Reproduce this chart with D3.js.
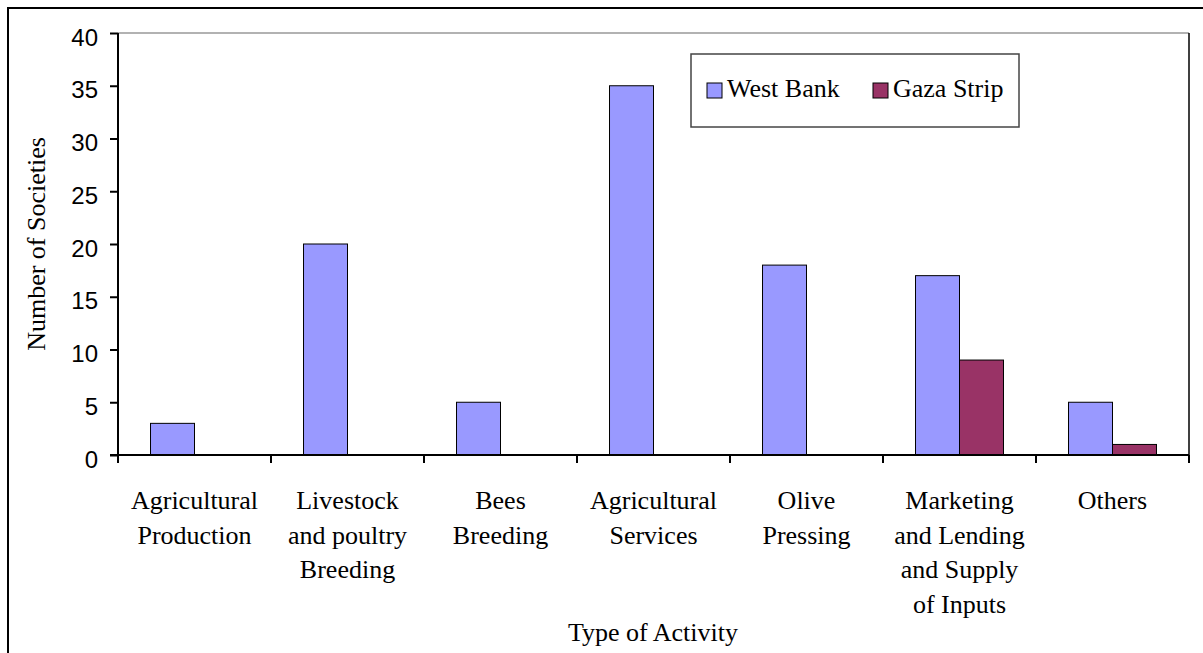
<!DOCTYPE html>
<html><head><meta charset="utf-8">
<script src="https://cdn.jsdelivr.net/npm/d3@7"></script>
<style>body{margin:0;background:#fff}svg{display:block}</style>
</head><body>
<svg id="c" width="1203" height="653"></svg>
<script>
const categories = ["Agricultural\nProduction","Livestock\nand poultry\nBreeding","Bees\nBreeding","Agricultural\nServices","Olive\nPressing","Marketing\nand Lending\nand Supply\nof Inputs","Others"];
const seriesNames = ["West Bank","Gaza Strip"];
const westBank = [3,20,5,35,18,17,5];
const gazaStrip = [0,0,0,0,0,9,1];
const yTicks = [0,5,10,15,20,25,30,35,40];
const colors = ["#9999FF","#993366"];

const svg = d3.select("#c");
const serif = "'Liberation Serif','Times New Roman',serif";
const sans = "'Liberation Sans',Arial,sans-serif";

// outer frame
svg.append("rect").attr("x",8).attr("y",8).attr("width",1300).attr("height",700)
  .attr("fill","none").attr("stroke","#000").attr("stroke-width",2);

const L=118, R=1189, T=33, B=455;
const x0 = d3.scaleBand().domain(categories).range([L,R]).padding(0);
const x1 = d3.scaleBand().domain(seriesNames).range([0,x0.bandwidth()]).paddingInner(0).paddingOuter(0.739);
const y = d3.scaleLinear().domain([0,40]).range([B,T]);

// plot area border (top gray, right black)
svg.append("line").attr("x1",L).attr("x2",R).attr("y1",T).attr("y2",T).attr("stroke","#999").attr("stroke-width",1.5);
svg.append("line").attr("x1",R).attr("x2",R).attr("y1",T).attr("y2",B).attr("stroke","#000").attr("stroke-width",1.5);

// bars
const data = categories.map((c,i)=>({c, vals:[westBank[i],gazaStrip[i]]}));
const g = svg.append("g");
data.forEach(d=>{
  d.vals.forEach((v,j)=>{
    if(v<=0) return;
    g.append("rect")
      .attr("x",x0(d.c)+x1(seriesNames[j]))
      .attr("y",y(v))
      .attr("width",x1.bandwidth())
      .attr("height",B-y(v))
      .attr("fill",colors[j]).attr("stroke","#000").attr("stroke-width",1);
  });
});

// y axis
const yAxis = d3.axisLeft(y).tickValues(yTicks).tickSize(8).tickPadding(12);
const ya = svg.append("g").attr("transform",`translate(${L},0)`).call(yAxis);
ya.select(".domain").attr("stroke","#000").attr("stroke-width",2).attr("d",`M-0,${T}V${B+8}`);
ya.selectAll(".tick line").attr("stroke","#000").attr("stroke-width",2);
ya.selectAll(".tick text").attr("font-family",sans).attr("font-size",24).attr("fill","#000").attr("dy","0.5em");

// x axis
const xa = svg.append("g").attr("transform",`translate(0,${B})`);
xa.append("line").attr("x1",L-8).attr("x2",R).attr("y1",0).attr("y2",0).attr("stroke","#000").attr("stroke-width",2);
const bounds = categories.map(c=>x0(c)).concat([R]);
xa.selectAll(".xt").data(bounds).enter().append("line")
  .attr("x1",d=>d).attr("x2",d=>d).attr("y1",0).attr("y2",8).attr("stroke","#000").attr("stroke-width",2);

// category labels
categories.forEach(c=>{
  const t = svg.append("text").attr("text-anchor","middle").attr("font-family",serif).attr("font-size",26).attr("fill","#000");
  c.split("\n").forEach((ln,k)=>{
    t.append("tspan").attr("x",x0(c)+x0.bandwidth()/2).attr("y",509+k*34.5).text(ln);
  });
});

// axis titles
svg.append("text").attr("x",653).attr("y",641).attr("text-anchor","middle")
  .attr("font-family",serif).attr("font-size",26).text("Type of Activity");
svg.append("text").attr("transform",`translate(45,${(T+B)/2}) rotate(-90)`).attr("text-anchor","middle")
  .attr("font-family",serif).attr("font-size",26).text("Number of Societies");

// legend
const lg = svg.append("g");
lg.append("rect").attr("x",691).attr("y",54).attr("width",328).attr("height",73)
  .attr("fill","#fff").attr("stroke","#444").attr("stroke-width",1.5);
const lx = [707,873];
seriesNames.forEach((s,i)=>{
  lg.append("rect").attr("x",lx[i]).attr("y",83).attr("width",15).attr("height",15)
    .attr("fill",colors[i]).attr("stroke","#000").attr("stroke-width",1);
  lg.append("text").attr("x",lx[i]+20).attr("y",97).attr("font-family",serif).attr("font-size",26).text(s);
});
</script>
</body></html>
